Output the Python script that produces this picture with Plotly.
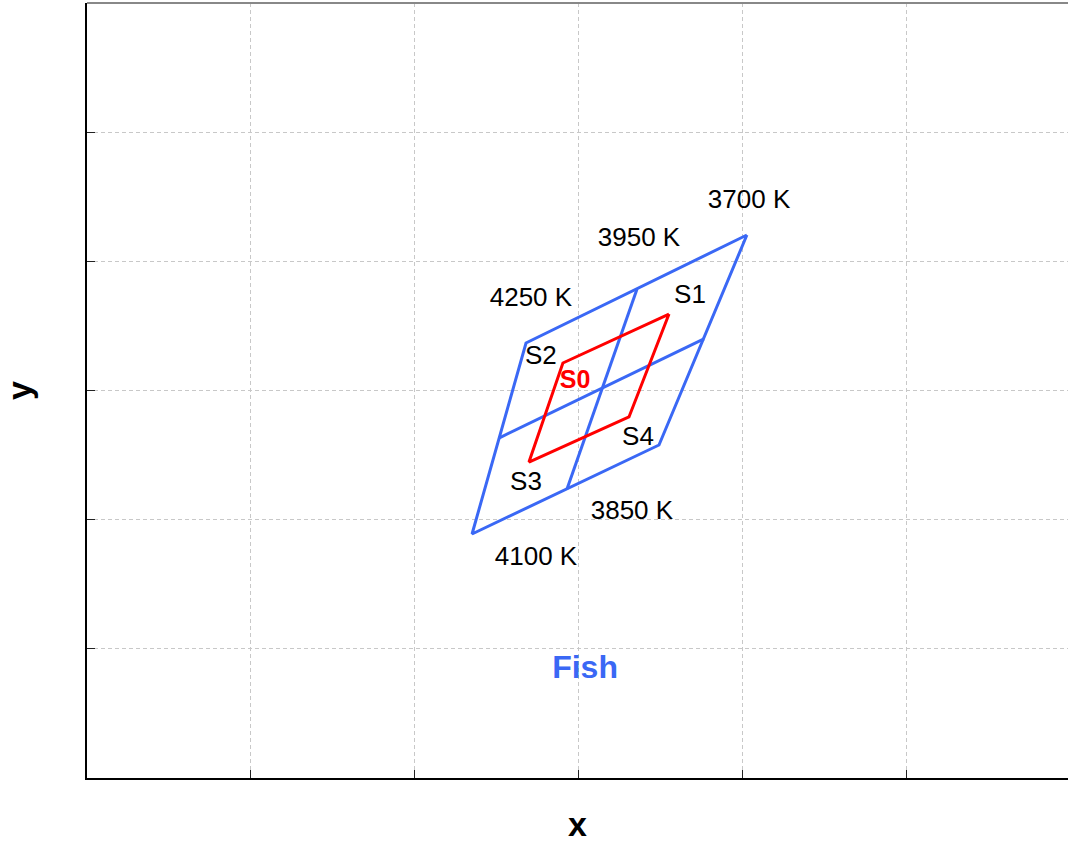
import plotly.graph_objects as go

# Outer bin (blue) corners: 3700K-top, 4250K-top, 4100K-bottom, 3850K-bottom
outer_x = [0.40024, 0.38677, 0.38348, 0.39488, 0.40024]
outer_y = [0.38204, 0.37368, 0.35889, 0.36578, 0.38204]

# Inner division lines (blue)
vline_x = [0.39354, 0.38927]   # 3950K top mid -> bottom mid
vline_y = [0.37786, 0.36237]
hline_x = [0.38512, 0.39762]   # left mid -> right mid
hline_y = [0.36632, 0.37399]

# Red S0 quadrangle: S1, S2, S3, S4
red_x = [0.39549, 0.38902, 0.38695, 0.39305, 0.39549]
red_y = [0.37592, 0.37213, 0.36446, 0.36795, 0.37592]

# Labels
lab_text = ["3700 K", "3950 K", "4250 K", "S1", "S2", "S4", "S3", "3850 K", "4100 K"]
lab_x = [0.40037, 0.39366, 0.38707, 0.39677, 0.38768, 0.39360, 0.38677, 0.39323, 0.38738]
lab_y = [0.38467, 0.38166, 0.37701, 0.37724, 0.37252, 0.36625, 0.36277, 0.36052, 0.35696]

s0_label = ("S0", 0.38976, 0.37066)
fish_label = ("Fish", 0.39037, 0.34837)

x_range = [0.36, 0.41982]
y_range = [0.34, 0.40]

BLUE = "#3a68f5"
RED = "#ff0000"
FONT = "Liberation Sans, Arial"

fig = go.Figure()
fig.add_trace(go.Scatter(x=outer_x, y=outer_y, mode="lines",
                         line=dict(color=BLUE, width=3), hoverinfo="skip"))
fig.add_trace(go.Scatter(x=vline_x, y=vline_y, mode="lines",
                         line=dict(color=BLUE, width=3), hoverinfo="skip"))
fig.add_trace(go.Scatter(x=hline_x, y=hline_y, mode="lines",
                         line=dict(color=BLUE, width=3), hoverinfo="skip"))
fig.add_trace(go.Scatter(x=red_x, y=red_y, mode="lines",
                         line=dict(color=RED, width=3), hoverinfo="skip"))
fig.add_trace(go.Scatter(x=lab_x, y=lab_y, mode="text", text=lab_text,
                         textfont=dict(family=FONT, size=26, color="black"),
                         textposition="middle center", hoverinfo="skip"))
fig.add_trace(go.Scatter(x=[s0_label[1]], y=[s0_label[2]], mode="text", text=[f"<b>{s0_label[0]}</b>"],
                         textfont=dict(family=FONT, size=25, color=RED),
                         textposition="middle center", hoverinfo="skip"))
fig.add_trace(go.Scatter(x=[fish_label[1]], y=[fish_label[2]], mode="text", text=[f"<b>{fish_label[0]}</b>"],
                         textfont=dict(family=FONT, size=32, color=BLUE),
                         textposition="middle center", hoverinfo="skip"))

# top frame line (gray)
fig.add_shape(type="line", xref="paper", yref="paper", x0=0, x1=1, y0=1, y1=1,
              line=dict(color="#888888", width=2))

axis_common = dict(showgrid=True, gridcolor="#c8c8c8", griddash="4px,3px", gridwidth=1,
                   zeroline=False, showticklabels=False, ticks="inside", ticklen=8,
                   tickcolor="#222222", tickwidth=1, showline=True, linecolor="black",
                   linewidth=1.5, dtick=0.01)

fig.update_layout(
    width=1068, height=843,
    margin=dict(l=87, r=0, t=3, b=65),
    plot_bgcolor="white", paper_bgcolor="white",
    showlegend=False,
    xaxis=dict(range=x_range, tick0=0.36,
               title=dict(text="<b>x</b>", font=dict(family=FONT, size=34, color="black"),
                          standoff=36),
               **axis_common),
    yaxis=dict(range=y_range, tick0=0.34,
               title=dict(text="<b>y</b>", font=dict(family=FONT, size=34, color="black"),
                          standoff=52),
               **axis_common),
)

fig.write_html("out.html",
               config={"displayModeBar": False},
               post_script="document.body.style.margin='0';document.body.style.padding='0';"
                           "document.body.style.overflow='hidden';")
